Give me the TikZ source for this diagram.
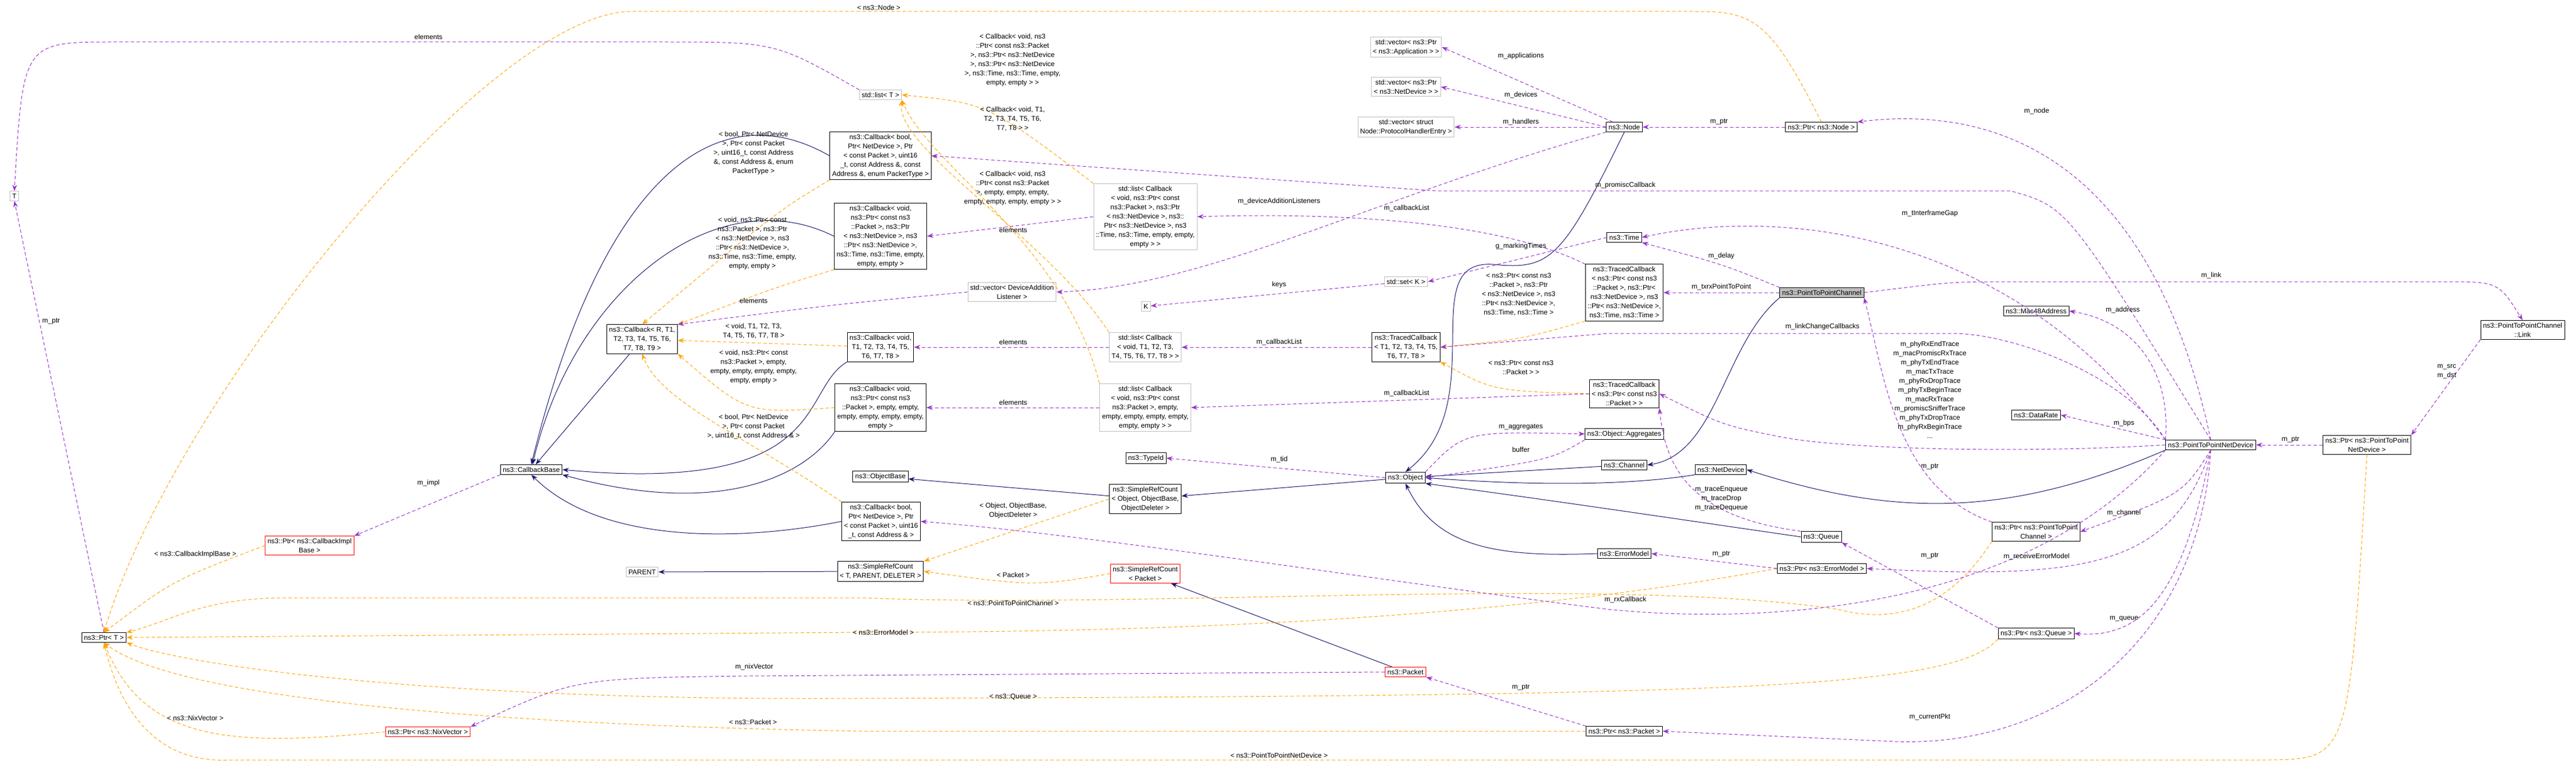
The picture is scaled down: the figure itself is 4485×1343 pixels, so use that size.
\documentclass[tikz,border=0pt]{standalone}
\usepackage{fontspec}
\setmainfont{Liberation Sans}
\usetikzlibrary{arrows.meta}

\definecolor{purp}{RGB}{154,50,205}
\definecolor{navyb}{RGB}{25,25,112}
\definecolor{orng}{RGB}{255,165,0}
\definecolor{grayb}{RGB}{191,191,191}

\tikzset{
	box/.style={draw=black, line width=1pt, fill=white, align=center, inner sep=4pt, font=\fontsize{12}{16}\selectfont},
	ubox/.style={box, draw=grayb},
	rbox/.style={box, draw=red},
	lbl/.style={align=center, inner sep=0pt, font=\fontsize{12}{16}\selectfont},
	inh/.style={draw=navyb, line width=1pt, -{Stealth[length=11pt,width=8pt]}},
	use/.style={draw=purp, line width=1pt, dashed, dash pattern=on 6pt off 4pt, -{Stealth[length=11pt,width=8pt]}},
	tmpl/.style={draw=orng, line width=1pt, dash pattern=on 6pt off 4pt, -{Stealth[length=11pt,width=8pt]}},
}

\begin{document}
\begin{tikzpicture}[x=1pt, y=-1pt]

	\useasboundingbox[fill=white] (0,0) rectangle (4485,1343);

	% nodes, left part
	\node[ubox] (T) at (25,341) {T};
	\node[box] (ptrT) at (181,1109) {ns3::Ptr< T >};
	\node[rbox] (ptrImpl) at (539,949) {ns3::Ptr< ns3::CallbackImpl\\Base >};
	\node[rbox] (ptrNix) at (745,1273) {ns3::Ptr< ns3::NixVector >};
	\node[box] (cbBase) at (925,817) {ns3::CallbackBase};
	\node[ubox] (parent) at (1118,995) {PARENT};
	\node[box] (cbR) at (1118,590) {ns3::Callback< R, T1,\\T2, T3, T4, T5, T6,\\T7, T8, T9 >};

	% callbacks
	\node[ubox] (listT) at (1533,165) {std::list< T >};
	\node[box] (cbBoolPT) at (1533,271) {ns3::Callback< bool,\\Ptr< NetDevice >, Ptr\\< const Packet >, uint16\\\_t, const Address \&, const\\Address \&, enum PacketType >};
	\node[box] (cbVoidND) at (1533,411) {ns3::Callback< void,\\ns3::Ptr< const ns3\\::Packet >, ns3::Ptr\\< ns3::NetDevice >, ns3\\::Ptr< ns3::NetDevice >,\\ns3::Time, ns3::Time, empty,\\empty, empty >};
	\node[box] (cbVoidT) at (1533,604) {ns3::Callback< void,\\T1, T2, T3, T4, T5,\\T6, T7, T8 >};
	\node[box] (cbVoidPkt) at (1533,709) {ns3::Callback< void,\\ns3::Ptr< const ns3\\::Packet >, empty, empty,\\empty, empty, empty, empty,\\empty >};
	\node[box] (objBase) at (1533,829) {ns3::ObjectBase};
	\node[box] (cbBoolAddr) at (1534,907) {ns3::Callback< bool,\\Ptr< NetDevice >, Ptr\\< const Packet >, uint16\\\_t, const Address \& >};
	\node[box] (srcTPD) at (1533,994) {ns3::SimpleRefCount\\< T, PARENT, DELETER >};

	% lists and refcounts
	\node[ubox] (listVoidND) at (1994,377) {std::list< Callback\\< void, ns3::Ptr< const\\ns3::Packet >, ns3::Ptr\\< ns3::NetDevice >, ns3::\\Ptr< ns3::NetDevice >, ns3\\::Time, ns3::Time, empty, empty,\\empty > >};
	\node[ubox] (vecDAL) at (1762,508) {std::vector< DeviceAddition\\Listener >};
	\node[ubox] (listVoidT) at (1994,604) {std::list< Callback\\< void, T1, T2, T3,\\T4, T5, T6, T7, T8 > >};
	\node[ubox] (listVoidPkt) at (1994,709) {std::list< Callback\\< void, ns3::Ptr< const\\ns3::Packet >, empty,\\empty, empty, empty, empty,\\empty, empty > >};
	\node[box] (typeId) at (1995,797) {ns3::TypeId};
	\node[box] (srcObj) at (1994,868) {ns3::SimpleRefCount\\< Object, ObjectBase,\\ObjectDeleter >};
	\node[rbox] (srcPkt) at (1994,998) {ns3::SimpleRefCount\\< Packet >};
	\node[ubox] (K) at (1995,533) {K};

	% node, time, traced callbacks
	\node[ubox] (vecApp) at (2448,82) {std::vector< ns3::Ptr\\< ns3::Application > >};
	\node[ubox] (vecDev) at (2448,151) {std::vector< ns3::Ptr\\< ns3::NetDevice > >};
	\node[ubox] (vecHdl) at (2448,221) {std::vector< struct\\Node::ProtocolHandlerEntry >};
	\node[ubox] (setK) at (2448,490) {std::set< K >};
	\node[box] (tcbT) at (2448,604) {ns3::TracedCallback\\< T1, T2, T3, T4, T5,\\T6, T7, T8 >};
	\node[box] (object) at (2447,831) {ns3::Object};
	\node[rbox] (packet) at (2447,1169) {ns3::Packet};
	\node[box] (node) at (2828,221) {ns3::Node};
	\node[box] (timeN) at (2828,413) {ns3::Time};
	\node[box] (tcbFull) at (2828,509) {ns3::TracedCallback\\< ns3::Ptr< const ns3\\::Packet >, ns3::Ptr<\\ns3::NetDevice >, ns3\\::Ptr< ns3::NetDevice >,\\ns3::Time, ns3::Time >};
	\node[box] (tcbPkt) at (2828,685) {ns3::TracedCallback\\< ns3::Ptr< const ns3\\::Packet > >};
	\node[box] (aggr) at (2828,755) {ns3::Object::Aggregates};
	\node[box] (channel) at (2828,809) {ns3::Channel};
	\node[box] (netDev) at (2996,817) {ns3::NetDevice};
	\node[box] (errModel) at (2828,963) {ns3::ErrorModel};
	\node[box] (ptrPkt) at (2828,1272) {ns3::Ptr< ns3::Packet >};

	% point to point
	\node[box] (ptrNode) at (3171,221) {ns3::Ptr< ns3::Node >};
	\node[box, fill=grayb] (ptpChan) at (3172,509) {ns3::PointToPointChannel};
	\node[box] (queue) at (3171,934) {ns3::Queue};
	\node[box] (ptrErr) at (3172,989) {ns3::Ptr< ns3::ErrorModel >};
	\node[box] (mac48) at (3545,541) {ns3::Mac48Address};
	\node[box] (dataRate) at (3545,722) {ns3::DataRate};
	\node[box] (ptrChan) at (3545,925) {ns3::Ptr< ns3::PointToPoint\\Channel >};
	\node[box] (ptrQueue) at (3545,1102) {ns3::Ptr< ns3::Queue >};
	\node[box] (ptpDev) at (3849,774) {ns3::PointToPointNetDevice};
	\node[box] (ptrPtpDev) at (4121,774) {ns3::Ptr< ns3::PointToPoint\\NetDevice >};
	\node[box] (link) at (4392,574) {ns3::PointToPointChannel\\::Link};

	% inheritance
	\draw[inh] (cbR) -- (cbBase);
	\draw[inh] (cbBoolPT.west) .. controls (1250,160) and (1050,300) .. (cbBase.north);
	\draw[inh] (cbVoidND.west) .. controls (1250,310) and (1000,500) .. (cbBase);
	\draw[inh] (cbVoidT.south west) .. controls (1390,680) and (1450,860) .. (cbBase.east);
	\draw[inh] (cbVoidPkt.south west) .. controls (1400,830) and (1250,900) .. (cbBase.south east);
	\draw[inh] (cbBoolAddr.west) .. controls (1300,940) and (1050,950) .. (cbBase.south);
	\draw[inh] (srcTPD) -- (parent);
	\draw[inh] (srcObj) -- (objBase);
	\draw[inh] (object) -- (srcObj);
	\draw[inh] (packet) -- (srcPkt);
	\draw[inh] (node.south) .. controls (2720,450) and (2700,470) .. (2600,460) .. controls (2460,450) and (2600,700) .. (object.north);
	\draw[inh] (channel) -- (object);
	\draw[inh] (ptpChan.south west) .. controls (3000,600) and (2990,790) .. (channel.east);
	\draw[inh] (netDev.south west) .. controls (2800,850) and (2600,840) .. (object.east);
	\draw[inh] (ptpDev.south west) .. controls (3500,900) and (3300,900) .. (netDev.east);
	\draw[inh] (queue.west) .. controls (2900,900) and (2700,870) .. (object.south east);
	\draw[inh] (errModel.west) .. controls (2600,970) and (2500,950) .. (object.south);

	% template instances
	\draw[tmpl] (cbBoolPT.south west) .. controls (1350,370) .. (cbR.north);
	\draw[tmpl] (cbVoidND.south west) .. controls (1350,500) .. (cbR.north east);
	\draw[tmpl] (cbVoidT) -- (cbR);
	\draw[tmpl] (cbVoidPkt.west) .. controls (1300,720) .. (cbR.south east);
	\draw[tmpl] (cbBoolAddr.north west) .. controls (1300,760) and (1150,700) .. (cbR.south);
	\draw[tmpl] (listVoidND.north west) .. controls (1720,180) .. (listT.east);
	\draw[tmpl] (listVoidT.north west) .. controls (1830,420) and (1560,260) .. (listT.south east);
	\draw[tmpl] (listVoidPkt.north west) .. controls (1850,420) and (1620,290) .. (listT.south east);
	\draw[tmpl] (srcObj.west) -- (srcTPD.north east);
	\draw[tmpl] (srcPkt.west) .. controls (1800,1020) .. (srcTPD.east);
	\draw[tmpl] (ptrImpl.west) .. controls (300,1010) .. (ptrT.north);
	\draw[tmpl] (ptrNix.west) .. controls (400,1300) and (250,1290) .. (ptrT.south);
	\draw[tmpl] (ptrNode.north) .. controls (3080,30) and (3050,20) .. (2950,20) -- (1100,20) .. controls (850,20) and (300,700) .. (ptrT.north);
	\draw[tmpl] (ptrChan.south west) .. controls (3430,1000) and (3350,1100) .. (3200,1060) .. controls (2800,1000) and (2000,1060) .. (1500,1040) -- (500,1040) .. controls (350,1040) and (300,1080) .. (ptrT.north east);
	\draw[tmpl] (ptrErr.west) .. controls (2600,1080) and (2000,1100) .. (1500,1100) -- (ptrT.east);
	\draw[tmpl] (ptrQueue.south west) .. controls (3400,1200) and (3000,1210) .. (1500,1215) .. controls (700,1220) and (300,1150) .. (ptrT.south east);
	\draw[tmpl] (ptrPkt.west) -- (1500,1272) .. controls (800,1260) and (300,1210) .. (ptrT.south);
	\draw[tmpl] (ptrPtpDev.south) .. controls (4090,1320) .. (3950,1322) -- (400,1322) .. controls (250,1330) and (200,1200) .. (ptrT.south);
	\draw[tmpl] (tcbFull.south west) .. controls (2650,590) .. (tcbT.east);
	\draw[tmpl] (tcbPkt.west) .. controls (2600,680) .. (tcbT.south east);

	% uses
	\draw[use] (listT.north west) .. controls (1350,73) .. (1150,73) -- (200,73) .. controls (40,73) .. (T.north);
	\draw[use] (ptrT.north) -- (T.south);
	\draw[use] (cbBase.south west) -- (ptrImpl.north east);
	\draw[use] (packet.west) -- (1300,1176) .. controls (1000,1180) .. (ptrNix.north east);
	\draw[use] (ptrPkt.north west) -- (packet.south east);
	\draw[use] (node) -- (vecApp.east);
	\draw[use] (node.west) -- (vecDev.east);
	\draw[use] (node) -- (vecHdl);
	\draw[use] (node.south west) .. controls (2400,340) and (2100,500) .. (vecDAL.east);
	\draw[use] (vecDAL.west) .. controls (1450,530) .. (cbR.north east);
	\draw[use] (listVoidND.west) -- (cbVoidND.east);
	\draw[use] (listVoidT) -- (cbVoidT);
	\draw[use] (listVoidPkt) -- (cbVoidPkt);
	\draw[use] (tcbT) -- (listVoidT);
	\draw[use] (tcbFull.north west) .. controls (2600,380) and (2300,370) .. (listVoidND.east);
	\draw[use] (tcbPkt.west) -- (listVoidPkt.east);
	\draw[use] (ptpDev.north) .. controls (3600,360) .. (3500,332) -- (2500,332) -- (cbBoolPT.east);
	\draw[use] (ptpDev.south west) .. controls (3500,1090) and (3000,1080) .. (2800,1060) .. controls (2400,1010) and (1900,930) .. (cbBoolAddr.east);
	\draw[use] (setK) -- (K);
	\draw[use] (timeN.west) -- (setK.east);
	\draw[use] (ptpDev.north west) .. controls (3500,400) and (3100,360) .. (timeN.east);
	\draw[use] (ptpChan.north west) .. controls (3000,460) .. (timeN.south east);
	\draw[use] (ptpChan) -- (tcbFull);
	\draw[use] (ptpChan.east) .. controls (3400,490) .. (3500,490) -- (4250,490) .. controls (4350,490) .. (link.north);
	\draw[use] (link.south west) -- (ptrPtpDev.north east);
	\draw[use] (ptrPtpDev) -- (ptpDev);
	\draw[use] (ptrNode) -- (node);
	\draw[use] (ptpDev.north) .. controls (3750,300) and (3500,180) .. (ptrNode.north east);
	\draw[use] (ptpDev.north west) .. controls (3780,650) and (3720,560) .. (mac48.east);
	\draw[use] (ptpDev.north west) -- (dataRate.east);
	\draw[use] (ptpDev.north west) .. controls (3700,650) and (3500,580) .. (3400,580) -- (2800,580) -- (tcbT.east);
	\draw[use] (ptpDev.west) .. controls (3500,790) and (3200,780) .. (3100,760) .. controls (3000,740) .. (tcbPkt.east);
	\draw[use] (queue.north west) .. controls (2950,900) and (2900,820) .. (tcbPkt.south east);
	\draw[use] (ptrChan.north west) .. controls (3300,850) and (3280,650) .. (ptpChan.south east);
	\draw[use] (ptpDev.south) .. controls (3800,860) .. (ptrChan.east);
	\draw[use] (ptrErr.west) -- (errModel.east);
	\draw[use] (ptpDev.south) .. controls (3780,980) and (3650,1010) .. (ptrErr.east);
	\draw[use] (ptrQueue.north west) -- (queue.south east);
	\draw[use] (ptpDev.south) .. controls (3800,1050) and (3720,1110) .. (ptrQueue.east);
	\draw[use] (ptpDev.south) .. controls (3830,1100) and (3600,1300) .. (3300,1290) -- (ptrPkt.east);
	\draw[use] (object.west) -- (typeId.east);
	\draw[use] (object.north east) .. controls (2550,750) .. (aggr.west);
	\draw[use] (aggr.south west) .. controls (2700,800) .. (object.east);

	% labels
	\node[lbl] (lElem) at (746,64) {elements};
	\node[lbl] (lMptrT) at (89,559) {m\_ptr};
	\node[lbl] (lImpl) at (746,840) {m\_impl};
	\node[lbl] (lImplB) at (340,964) {< ns3::CallbackImplBase >};
	\node[lbl] (lNixT) at (340,1249) {< ns3::NixVector >};
	\node[lbl] (lNix) at (1313,1160) {m\_nixVector};
	\node[lbl] (lPktT) at (1311,1256) {< ns3::Packet >};
	\node[lbl] (lBoolPT) at (1312,266) {< bool, Ptr< NetDevice\\>, Ptr< const Packet\\>, uint16\_t, const Address\\\&, const Address \&, enum\\PacketType >};
	\node[lbl] (lVoidND) at (1310,423) {< void, ns3::Ptr< const\\ns3::Packet >, ns3::Ptr\\< ns3::NetDevice >, ns3\\::Ptr< ns3::NetDevice >,\\ns3::Time, ns3::Time, empty,\\empty, empty >};
	\node[lbl] (lElem2) at (1312,523) {elements};
	\node[lbl] (lVoidT) at (1312,576) {< void, T1, T2, T3,\\T4, T5, T6, T7, T8 >};
	\node[lbl] (lVoidPkt) at (1312,638) {< void, ns3::Ptr< const\\ns3::Packet >, empty,\\empty, empty, empty, empty,\\empty, empty >};
	\node[lbl] (lBoolAddr) at (1312,742) {< bool, Ptr< NetDevice\\>, Ptr< const Packet\\>, uint16\_t, const Address \& >};
	\node[lbl] (lNodeT) at (1530,13) {< ns3::Node >};
	\node[lbl] (lListND) at (1763,104) {< Callback< void, ns3\\::Ptr< const ns3::Packet\\>, ns3::Ptr< ns3::NetDevice\\>, ns3::Ptr< ns3::NetDevice\\>, ns3::Time, ns3::Time, empty,\\empty, empty > >};
	\node[lbl] (lListT) at (1763,207) {< Callback< void, T1,\\T2, T3, T4, T5, T6,\\T7, T8 > >};
	\node[lbl] (lListPkt) at (1763,327) {< Callback< void, ns3\\::Ptr< const ns3::Packet\\>, empty, empty, empty,\\empty, empty, empty, empty > >};
	\node[lbl] (lElem3) at (1764,400) {elements};
	\node[lbl] (lElem4) at (1764,595) {elements};
	\node[lbl] (lElem5) at (1764,700) {elements};
	\node[lbl] (lObjT) at (1764,888) {< Object, ObjectBase,\\ObjectDeleter >};
	\node[lbl] (lPkt2) at (1764,1000) {< Packet >};
	\node[lbl] (lChanT) at (1764,1049) {< ns3::PointToPointChannel >};
	\node[lbl] (lErrT) at (1538,1100) {< ns3::ErrorModel >};
	\node[lbl] (lQueueT) at (1764,1212) {< ns3::Queue >};
	\node[lbl] (lDevT) at (2227,1314) {< ns3::PointToPointNetDevice >};
	\node[lbl] (lDAL) at (2227,350) {m\_deviceAdditionListeners};
	\node[lbl] (lKeys) at (2227,495) {keys};
	\node[lbl] (lCbl1) at (2227,595) {m\_callbackList};
	\node[lbl] (lTid) at (2227,799) {m\_tid};
	\node[lbl] (lCbl2) at (2449,362) {m\_callbackList};
	\node[lbl] (lCbl3) at (2449,684) {m\_callbackList};
	\node[lbl] (lApp) at (2648,97) {m\_applications};
	\node[lbl] (lDev) at (2648,165) {m\_devices};
	\node[lbl] (lHdl) at (2648,212) {m\_handlers};
	\node[lbl] (lMark) at (2648,428) {g\_markingTimes};
	\node[lbl] (lTcbFull) at (2644,512) {< ns3::Ptr< const ns3\\::Packet >, ns3::Ptr\\< ns3::NetDevice >, ns3\\::Ptr< ns3::NetDevice >,\\ns3::Time, ns3::Time >};
	\node[lbl] (lTcbPkt) at (2648,639) {< ns3::Ptr< const ns3\\::Packet > >};
	\node[lbl] (lAggr) at (2648,743) {m\_aggregates};
	\node[lbl] (lBuf) at (2648,782) {buffer};
	\node[lbl] (lPtrPkt) at (2648,1196) {m\_ptr};
	\node[lbl] (lPromisc) at (2830,322) {m\_promiscCallback};
	\node[lbl] (lRx) at (2830,1043) {m\_rxCallback};
	\node[lbl] (lPtrNode) at (2993,212) {m\_ptr};
	\node[lbl] (lDelay) at (2997,445) {m\_delay};
	\node[lbl] (lTxrx) at (2997,499) {m\_txrxPointToPoint};
	\node[lbl] (lTrace) at (2997,868) {m\_traceEnqueue\\m\_traceDrop\\m\_traceDequeue};
	\node[lbl] (lPtrErr) at (2997,964) {m\_ptr};
	\node[lbl] (lLinkCb) at (3173,568) {m\_linkChangeCallbacks};
	\node[lbl] (lGap) at (3360,371) {m\_tInterframeGap};
	\node[lbl] (lTraces) at (3360,678) {m\_phyRxEndTrace\\m\_macPromiscRxTrace\\m\_phyTxEndTrace\\m\_macTxTrace\\m\_phyRxDropTrace\\m\_phyTxBeginTrace\\m\_macRxTrace\\m\_promiscSnifferTrace\\m\_phyTxDropTrace\\m\_phyRxBeginTrace\\...};
	\node[lbl] (lPtrChan) at (3360,812) {m\_ptr};
	\node[lbl] (lPtrQ) at (3360,967) {m\_ptr};
	\node[lbl] (lCur) at (3360,1247) {m\_currentPkt};
	\node[lbl] (lNode) at (3546,193) {m\_node};
	\node[lbl] (lRecv) at (3546,968) {m\_receiveErrorModel};
	\node[lbl] (lAddr) at (3696,539) {m\_address};
	\node[lbl] (lBps) at (3698,736) {m\_bps};
	\node[lbl] (lChan) at (3698,892) {m\_channel};
	\node[lbl] (lQueue) at (3698,1077) {m\_queue};
	\node[lbl] (lLink) at (3850,479) {m\_link};
	\node[lbl] (lPtrDev) at (3988,765) {m\_ptr};
	\node[lbl] (lSrc) at (4260,646) {m\_src\\m\_dst};

\end{tikzpicture}
\end{document}
